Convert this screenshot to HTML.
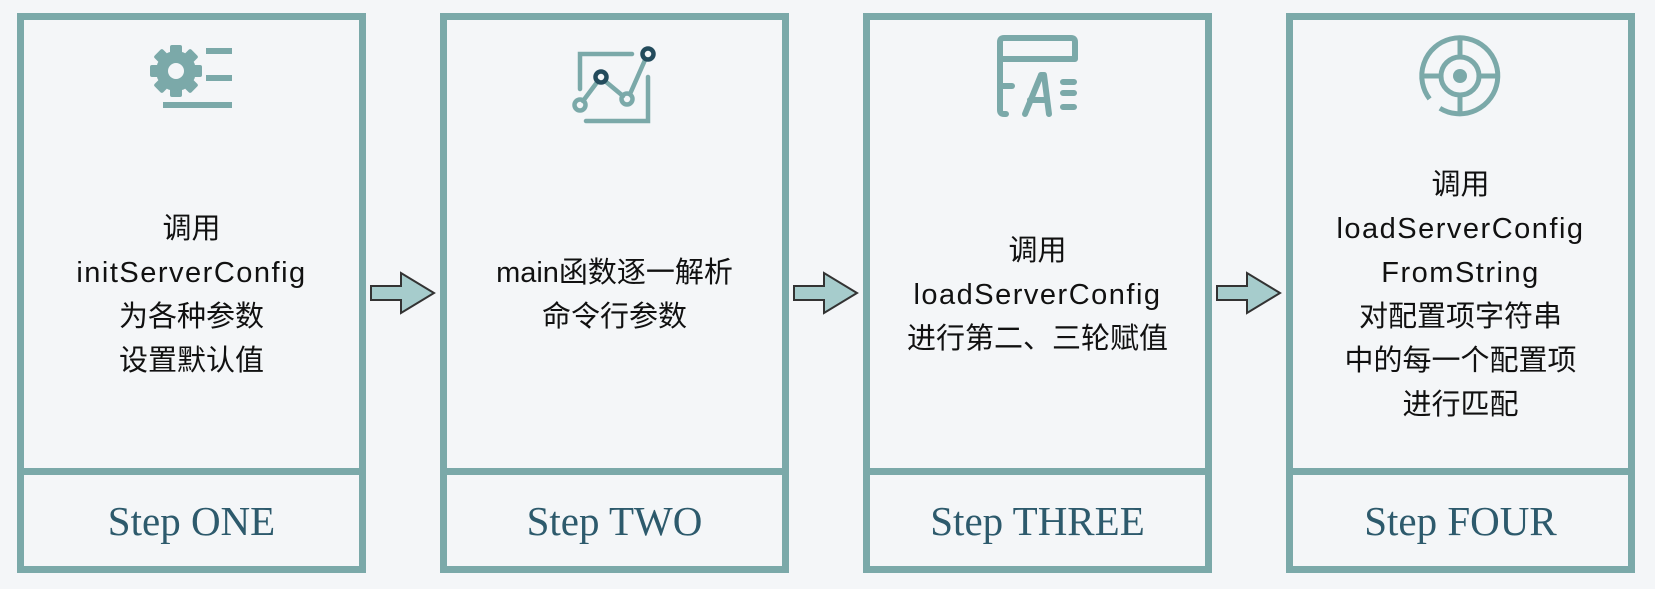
<!DOCTYPE html>
<html><head><meta charset="utf-8"><style>
*{margin:0;padding:0;box-sizing:border-box}
body{width:1655px;height:589px;background:#f4f6f8;position:relative;overflow:hidden;font-family:"Liberation Sans","Noto Sans CJK SC",sans-serif}
.box{position:absolute;top:13px;width:349px;height:560px;border:7px solid #7ba9a9}
.div{position:absolute;left:0;right:0;top:448px;height:7px;background:#7ba9a9}
.txt{position:absolute;left:0;right:0;top:125px;height:300px;display:flex;flex-direction:column;justify-content:center;align-items:center;text-align:center;font-size:29px;line-height:44px;color:#111;white-space:nowrap}
.l{letter-spacing:1.5px}
.step{position:absolute;left:0;right:0;top:455px;bottom:0;display:flex;align-items:center;justify-content:center;font-family:"Liberation Serif",serif;font-size:41px;color:#2d5a6c}
.ico{position:absolute;left:0;top:0}
.arr{position:absolute;top:270px}
</style></head><body>
<div class="box" style="left:17px">
<svg class="ico" width="335" height="130"><g fill="#7ba9a9">
<g transform="translate(152,51)"><rect x="-6" y="-26" width="12" height="52" rx="2"/><rect x="-6" y="-26" width="12" height="52" rx="2" transform="rotate(45)"/><rect x="-6" y="-26" width="12" height="52" rx="2" transform="rotate(90)"/><rect x="-6" y="-26" width="12" height="52" rx="2" transform="rotate(135)"/><circle r="20"/><circle r="8" fill="#f4f6f8"/></g>
<rect x="182" y="28" width="26" height="6"/><rect x="182" y="55" width="26" height="6"/><rect x="139" y="82" width="69" height="6"/></g></svg>
<div class="txt"><div>调用</div><div class="l">initServerConfig</div><div>为各种参数</div><div>设置默认值</div></div>
<div class="div"></div><div class="step">Step ONE</div></div>

<div class="box" style="left:440px">
<svg class="ico" width="335" height="130" fill="none" stroke-width="4.5" stroke-linecap="round">
<path d="M133 69V34H185" stroke="#7ba9a9"/>
<path d="M139 101H201V57" stroke="#7ba9a9"/>
<path d="M136 81L151 61M158 61L176 76M183 74L198 40" stroke="#7ba9a9"/>
<circle cx="133" cy="85" r="5.5" stroke="#7ba9a9"/><circle cx="180" cy="79" r="5.5" stroke="#7ba9a9"/>
<circle cx="154" cy="57" r="5.5" stroke="#234b5c"/><circle cx="201" cy="34" r="5.5" stroke="#234b5c"/></svg>
<div class="txt"><div>main函数逐一解析</div><div>命令行参数</div></div>
<div class="div"></div><div class="step">Step TWO</div></div>

<div class="box" style="left:863px">
<svg class="ico" width="335" height="130" fill="none" stroke="#7ba9a9" stroke-width="6" stroke-linecap="round" stroke-linejoin="round">
<path d="M136 94H134Q130 94 130 90V22Q130 18 134 18H201Q205 18 205 22V39H130"/>
<path d="M130 66H142"/>
<path d="M155 94L171 55H174L179 94M160 80H177"/>
<path d="M193 62H204M193 73H204M193 87H204"/></svg>
<div class="txt"><div>调用</div><div class="l">loadServerConfig</div><div>进行第二、三轮赋值</div></div>
<div class="div"></div><div class="step">Step THREE</div></div>

<div class="box" style="left:1286px">
<svg class="ico" width="335" height="130" fill="none" stroke="#7ba9a9" stroke-width="5">
<path d="M136.6 78.9A38 38 0 1 1 146.9 88.2"/>
<circle cx="167" cy="56" r="19"/>
<circle cx="167" cy="56" r="7" fill="#7ba9a9" stroke="none"/>
<path d="M167 18V37M167 75V94M129 56H148M186 56H205"/></svg>
<div class="txt"><div>调用</div><div class="l">loadServerConfig</div><div class="l">FromString</div><div>对配置项字符串</div><div>中的每一个配置项</div><div>进行匹配</div></div>
<div class="div"></div><div class="step">Step FOUR</div></div>

<svg class="arr" style="left:370px" width="66" height="46"><path d="M1 16H31V3L64 23L31 43V30H1Z" fill="#a6cccc" stroke="#333" stroke-width="2"/></svg>
<svg class="arr" style="left:793px" width="66" height="46"><path d="M1 16H31V3L64 23L31 43V30H1Z" fill="#a6cccc" stroke="#333" stroke-width="2"/></svg>
<svg class="arr" style="left:1216px" width="66" height="46"><path d="M1 16H31V3L64 23L31 43V30H1Z" fill="#a6cccc" stroke="#333" stroke-width="2"/></svg>
</body></html>
